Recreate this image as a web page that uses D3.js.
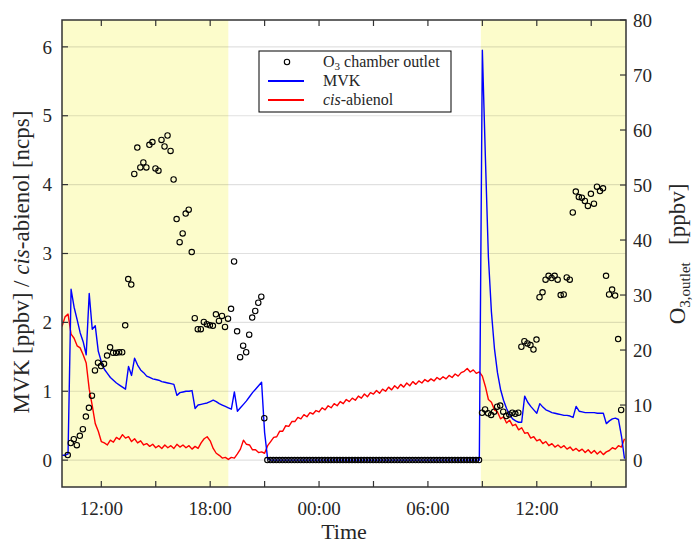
<!DOCTYPE html>
<html>
<head>
<meta charset="utf-8">
<script src="https://cdn.jsdelivr.net/npm/d3@7"></script>
<style>
  body { margin: 0; background: #fff; }
  text { font-family: "Liberation Serif", "Times New Roman", serif; fill: #262626; }
</style>
</head>
<body>
<svg id="chart" width="694" height="544"></svg>
<script>
// ---- data ----
// MVK and cis-abienol, one value every 10 min from lineStart
var lineStart = new Date(2019, 6, 1, 9, 50);
var lineStepMin = 10;

var mvk = [
  0.07, 0.07, 0.09, 2.48, 2.22, 2.04, 1.85, 1.72, 1.53, 2.42,
  1.90, 1.95, 1.58, 1.43, 1.32, 1.26, 1.20, 1.16, 1.12, 1.09,
  1.06, 1.03, 1.36, 1.23, 1.48, 1.38, 1.31, 1.27, 1.22, 1.20,
  1.18, 1.17, 1.16, 1.14, 1.13, 1.12, 1.11, 1.10, 0.94, 0.98,
  0.99, 1.00, 1.00, 1.01, 0.75, 0.80, 0.81, 0.82, 0.83, 0.85,
  0.87, 0.85, 0.82, 0.80, 0.78, 0.76, 0.74, 0.99, 0.71, 0.76,
  0.81, 0.86, 0.92, 0.98, 1.03, 1.08, 1.13, 0.40, 0.02,
  0, 0, 0, 0, 0, 0, 0, 0, 0, 0,
  0, 0, 0, 0, 0, 0, 0, 0, 0, 0,
  0, 0, 0, 0, 0, 0, 0, 0, 0, 0,
  0, 0, 0, 0, 0, 0, 0, 0, 0, 0,
  0, 0, 0, 0, 0, 0, 0, 0, 0, 0,
  0, 0, 0, 0, 0, 0, 0, 0, 0, 0,
  0, 0, 0, 0, 0, 0, 0, 0, 0, 0,
  5.95, 4.40, 2.95, 2.15, 1.62, 1.27, 1.03, 0.87, 0.75, 0.66,
  0.60, 0.57, 0.55, 0.55, 0.93, 0.84, 0.78, 0.73, 0.68, 0.82,
  0.77, 0.73, 0.71, 0.69, 0.68, 0.67, 0.66, 0.65, 0.65, 0.64,
  0.62, 0.78, 0.71, 0.70, 0.69, 0.69, 0.69, 0.69, 0.68, 0.68,
  0.68, 0.53, 0.57, 0.60, 0.61, 0.59, 0.35, 0.02
];

var abienol = [
  1.94, 2.08, 2.12, 1.83, 1.77, 1.66, 1.63, 1.53, 1.41, 1.03,
  0.79, 0.53, 0.42, 0.27, 0.25, 0.22, 0.29, 0.26, 0.33, 0.30,
  0.37, 0.32, 0.34, 0.27, 0.31, 0.25, 0.28, 0.22, 0.24, 0.20,
  0.23, 0.18, 0.21, 0.17, 0.22, 0.18, 0.21, 0.17, 0.23, 0.19,
  0.22, 0.18, 0.21, 0.16, 0.20, 0.17, 0.25, 0.31, 0.34, 0.28,
  0.17, 0.10, 0.07, 0.03, 0.04, 0.01, 0.04, 0.03, 0.09, 0.16,
  0.29, 0.23, 0.22, 0.15, 0.15, 0.11, 0.12, 0.10, 0.21, 0.27,
  0.33, 0.34, 0.42, 0.42, 0.50, 0.49, 0.56, 0.56, 0.62, 0.60,
  0.66, 0.63, 0.69, 0.67, 0.72, 0.70, 0.76, 0.73, 0.79, 0.76,
  0.82, 0.79, 0.85, 0.82, 0.88, 0.85, 0.90, 0.87, 0.93, 0.90,
  0.96, 0.92, 0.98, 0.96, 1.01, 0.97, 1.03, 1.00, 1.06, 1.02,
  1.08, 1.04, 1.10, 1.06, 1.12, 1.08, 1.14, 1.10, 1.15, 1.12,
  1.17, 1.14, 1.18, 1.15, 1.20, 1.17, 1.21, 1.18, 1.23, 1.20,
  1.25, 1.22, 1.27, 1.29, 1.33, 1.28, 1.31, 1.26, 1.28, 1.22,
  1.07, 0.88, 0.84, 0.73, 0.70, 0.60, 0.63, 0.54, 0.58, 0.50,
  0.52, 0.44, 0.47, 0.39, 0.40, 0.32, 0.34, 0.28, 0.30, 0.24,
  0.27, 0.21, 0.24, 0.19, 0.22, 0.18, 0.21, 0.16, 0.19, 0.14,
  0.17, 0.13, 0.16, 0.11, 0.15, 0.10, 0.14, 0.09, 0.13, 0.08,
  0.12, 0.14, 0.18, 0.16, 0.21, 0.19, 0.31
];

// O3 at the chamber outlet, one value every 10 min from o3Start
var o3Start = new Date(2019, 6, 1, 10, 9);
var o3StepMin = 10;
var o3 = [
  0.9, 3.1, 3.8, 2.7, 4.4, 5.6, 7.9, 9.5, 11.7, 16.3,
  17.7, 17.1, 17.5, 19.0, 20.5, 19.5, 19.5, 19.6, 19.6, 24.5,
  32.9, 31.9, 52.0, 56.8, 53.2, 54.1, 53.2, 57.3, 57.8, 53.0,
  52.6, 58.2, 57.0, 59.0, 56.2, 51.0, 43.8, 39.6, 41.2, 44.8,
  45.5, 37.8, 25.8, 23.8, 23.8, 25.1, 24.7, 24.5, 24.4, 26.5,
  25.3, 26.2, 24.2, 25.7, 27.5, 36.1, 23.4, 18.7, 20.8, 19.6,
  22.8, 25.9, 27.1, 28.6, 29.7, 7.6,
  0, 0, 0, 0, 0, 0, 0, 0, 0, 0,
  0, 0, 0, 0, 0, 0, 0, 0, 0, 0,
  0, 0, 0, 0, 0, 0, 0, 0, 0, 0,
  0, 0, 0, 0, 0, 0, 0, 0, 0, 0,
  0, 0, 0, 0, 0, 0, 0, 0, 0, 0,
  0, 0, 0, 0, 0, 0, 0, 0, 0, 0,
  0, 0, 0, 0, 0, 0, 0, 0, 0, 0,
  0,
  8.6, 9.2, 8.5, 8.2, 8.8, 9.7, 9.9, 8.8, 8.0, 8.3,
  8.6, 8.4, 8.6, 20.6, 21.6, 21.2, 20.9, 20.1, 21.9, 29.6,
  30.5, 32.8, 33.5, 33.1, 33.5, 32.8, 30.0, 30.1, 33.2, 32.8,
  45.0, 48.8, 47.8, 47.7, 47.1, 46.2, 48.4, 46.6, 49.7, 48.9,
  49.4, 33.5, 30.1, 31.0, 29.9, 22.0, 9.1
];

// shaded (yellow) periods
var shadeStarts = [new Date(2019, 6, 1, 9, 50), new Date(2019, 6, 2, 8, 55)];
var shadeEnds   = [new Date(2019, 6, 1, 19, 0), new Date(2019, 6, 2, 16, 55)];

var timeDomain = [new Date(2019, 6, 1, 9, 50), new Date(2019, 6, 2, 16, 55)];
var leftTicks  = [0, 1, 2, 3, 4, 5, 6];
var rightTicks = [0, 10, 20, 30, 40, 50, 60, 70, 80];

// ---- layout ----
var plot = { left: 62, right: 626, top: 20, bottom: 487 };
var tickLen = 6;
var tickFont = 19;

var svg = d3.select('#chart');

var x = d3.scaleTime().domain(timeDomain).range([plot.left, plot.right]);
var yL = d3.scaleLinear().domain([-0.39, 6.39]).range([plot.bottom, plot.top]);
var yR = d3.scaleLinear().domain([-4.9, 80]).range([plot.bottom, plot.top]);

var lineTime = function(i) { return d3.timeMinute.offset(lineStart, i * lineStepMin); };
var o3Time = function(i) { return d3.timeMinute.offset(o3Start, i * o3StepMin); };

svg.append('defs').append('clipPath').attr('id', 'clip')
   .append('rect')
   .attr('x', plot.left).attr('y', plot.top)
   .attr('width', plot.right - plot.left).attr('height', plot.bottom - plot.top);

// yellow shading
svg.append('g').selectAll('rect').data(shadeStarts).enter().append('rect')
   .attr('x', function(d) { return x(d); })
   .attr('y', plot.top)
   .attr('width', function(d, i) { return x(shadeEnds[i]) - x(d); })
   .attr('height', plot.bottom - plot.top)
   .attr('fill', '#fcfccb');

// grid lines for the left axis
svg.append('g').selectAll('line').data(leftTicks).enter().append('line')
   .attr('x1', plot.left).attr('x2', plot.right)
   .attr('y1', function(d) { return yL(d); })
   .attr('y2', function(d) { return yL(d); })
   .attr('stroke', '#000').attr('stroke-opacity', 0.12).attr('stroke-width', 1.2);

var g = svg.append('g').attr('clip-path', 'url(#clip)');

var seriesLine = d3.line()
  .x(function(d, i) { return x(lineTime(i)); })
  .y(function(d) { return yL(d); });

g.append('path').datum(abienol)
   .attr('d', seriesLine)
   .attr('fill', 'none').attr('stroke', '#ff0000').attr('stroke-width', 1.4)
   .attr('stroke-linejoin', 'round');

g.append('path').datum(mvk)
   .attr('d', seriesLine)
   .attr('fill', 'none').attr('stroke', '#0000ff').attr('stroke-width', 1.4)
   .attr('stroke-linejoin', 'round');

g.append('g').selectAll('circle').data(o3).enter().append('circle')
   .attr('cx', function(d, i) { return x(o3Time(i)); })
   .attr('cy', function(d) { return yR(d); })
   .attr('r', 2.7)
   .attr('fill', 'none').attr('stroke', '#000').attr('stroke-width', 1.1);

// ---- axes ----
var axisColor = '#333';
var xTicks = x.ticks(d3.timeHour.every(3));
var fmt = d3.timeFormat('%H:%M');

var ax = svg.append('g');
// bottom and top ticks (inward)
ax.selectAll('.xb').data(xTicks).enter().append('line')
  .attr('x1', function(d) { return x(d); }).attr('x2', function(d) { return x(d); })
  .attr('y1', plot.bottom).attr('y2', plot.bottom - tickLen)
  .attr('stroke', axisColor).attr('stroke-width', 1.2);
ax.selectAll('.xt').data(xTicks).enter().append('line')
  .attr('x1', function(d) { return x(d); }).attr('x2', function(d) { return x(d); })
  .attr('y1', plot.top).attr('y2', plot.top + tickLen)
  .attr('stroke', axisColor).attr('stroke-width', 1.2);
ax.selectAll('.xl').data(xTicks.filter(function(d) { return d.getHours() % 6 === 0; }))
  .enter().append('text')
  .attr('x', function(d) { return x(d); })
  .attr('y', 515)
  .attr('text-anchor', 'middle')
  .attr('font-size', tickFont)
  .text(function(d) { return fmt(d); });

// left ticks
ax.selectAll('.yl').data(leftTicks).enter().append('line')
  .attr('x1', plot.left).attr('x2', plot.left + tickLen)
  .attr('y1', function(d) { return yL(d); }).attr('y2', function(d) { return yL(d); })
  .attr('stroke', axisColor).attr('stroke-width', 1.2);
ax.selectAll('.yll').data(leftTicks).enter().append('text')
  .attr('x', 52)
  .attr('y', function(d) { return yL(d); })
  .attr('dy', '0.35em')
  .attr('text-anchor', 'end')
  .attr('font-size', tickFont)
  .text(function(d) { return d; });

// right ticks
ax.selectAll('.yr').data(rightTicks).enter().append('line')
  .attr('x1', plot.right).attr('x2', plot.right - tickLen)
  .attr('y1', function(d) { return yR(d); }).attr('y2', function(d) { return yR(d); })
  .attr('stroke', axisColor).attr('stroke-width', 1.2);
ax.selectAll('.yrl').data(rightTicks).enter().append('text')
  .attr('x', 633)
  .attr('y', function(d) { return yR(d); })
  .attr('dy', '0.35em')
  .attr('text-anchor', 'start')
  .attr('font-size', tickFont)
  .text(function(d) { return d; });

// frame
svg.append('rect')
  .attr('x', plot.left).attr('y', plot.top)
  .attr('width', plot.right - plot.left).attr('height', plot.bottom - plot.top)
  .attr('fill', 'none').attr('stroke', axisColor).attr('stroke-width', 1.5);

// axis titles
var lt = svg.append('text')
  .attr('transform', 'translate(29,262) rotate(-90)')
  .attr('text-anchor', 'middle')
  .attr('font-size', 23);
lt.append('tspan').text('MVK [ppbv] / ');
lt.append('tspan').attr('font-style', 'italic').text('cis');
lt.append('tspan').text('-abienol [ncps]');

var rt = svg.append('text')
  .attr('transform', 'translate(685,254) rotate(-90)')
  .attr('text-anchor', 'middle')
  .attr('font-size', 23);
rt.append('tspan').text('O');
rt.append('tspan').attr('font-size', 15).attr('dy', 5).text('3,outlet');
rt.append('tspan').attr('dy', -5).text('\u2002 [ppbv]');

svg.append('text')
  .attr('x', 344).attr('y', 539)
  .attr('text-anchor', 'middle')
  .attr('font-size', 22)
  .text('Time');

// ---- legend ----
var lg = svg.append('g');
lg.append('rect')
  .attr('x', 259).attr('y', 51).attr('width', 192).attr('height', 61)
  .attr('fill', '#fff').attr('stroke', '#000').attr('stroke-width', 1);
lg.append('circle')
  .attr('cx', 287).attr('cy', 62).attr('r', 2.7)
  .attr('fill', 'none').attr('stroke', '#000').attr('stroke-width', 1.1);
lg.append('line').attr('x1', 268).attr('x2', 304).attr('y1', 81).attr('y2', 81)
  .attr('stroke', '#0000ff').attr('stroke-width', 2);
lg.append('line').attr('x1', 268).attr('x2', 304).attr('y1', 100).attr('y2', 100)
  .attr('stroke', '#ff0000').attr('stroke-width', 2);

var l1 = lg.append('text').attr('x', 323).attr('y', 67).attr('font-size', 16);
l1.append('tspan').text('O');
l1.append('tspan').attr('font-size', 11).attr('dy', 3).text('3');
l1.append('tspan').attr('dy', -3).text(' chamber outlet');
lg.append('text').attr('x', 323).attr('y', 86).attr('font-size', 16).text('MVK');
var l3 = lg.append('text').attr('x', 323).attr('y', 105).attr('font-size', 16);
l3.append('tspan').attr('font-style', 'italic').text('cis');
l3.append('tspan').text('-abienol');
</script>
</body>
</html>
